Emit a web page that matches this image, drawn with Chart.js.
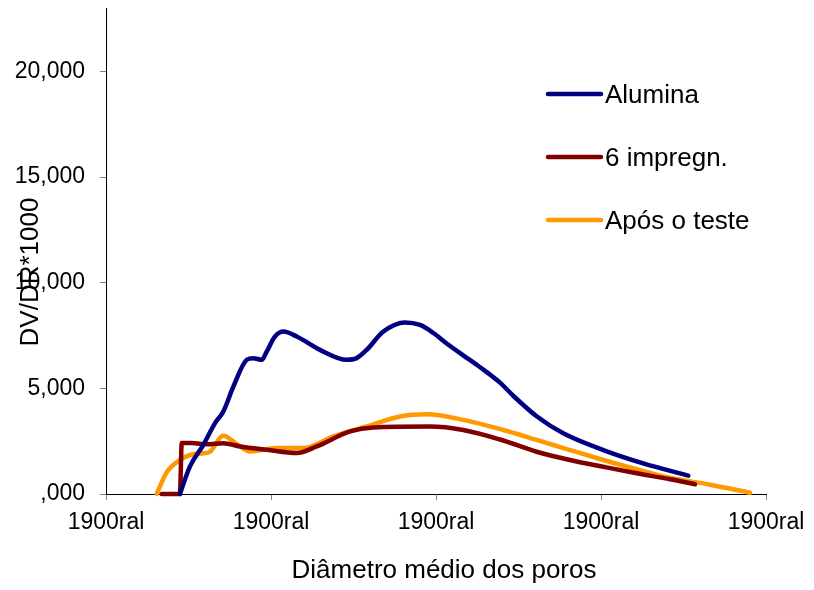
<!DOCTYPE html>
<html>
<head>
<meta charset="utf-8">
<script src="https://cdn.jsdelivr.net/npm/chart.js@4"></script>
<style>
  body { margin: 0; background: #fff; }
  canvas { display: block; }
</style>
</head>
<body>
<canvas id="myChart" width="814" height="590"></canvas>
<script>
// Werte (x in Achseneinheiten, y = DV/DR*1000)
const aluminaX = [0.448, 0.509, 0.590, 0.661, 0.711, 0.772, 0.853, 0.893, 0.944, 0.974, 1.024, 1.075, 1.156, 1.297, 1.459, 1.519, 1.580, 1.681, 1.812, 1.903, 1.984, 2.065, 2.165, 2.267, 2.388, 2.468, 2.610, 2.771, 3.014, 3.256, 3.529];
const aluminaY = [0, 1305, 2330, 3357, 3905, 5087, 6350, 6430, 6350, 6742, 7451, 7688, 7451, 6822, 6350, 6430, 6822, 7688, 8120, 8000, 7620, 7120, 6560, 6000, 5270, 4650, 3680, 2870, 2080, 1450, 870];

const impregX = [0.338, 0.448, 0.459, 0.519, 0.610, 0.711, 0.812, 0.974, 1.156, 1.277, 1.479, 1.620, 1.964, 2.165, 2.388, 2.610, 2.812, 3.014, 3.216, 3.418, 3.570];
const impregY = [0, 0, 2411, 2411, 2350, 2400, 2250, 2094, 1938, 2250, 2960, 3150, 3190, 3030, 2580, 2000, 1610, 1290, 980, 700, 460];

const testeX = [0.307, 0.368, 0.448, 0.509, 0.590, 0.630, 0.711, 0.792, 0.873, 1.035, 1.196, 1.378, 1.580, 1.782, 1.944, 2.165, 2.408, 2.610, 2.812, 3.014, 3.216, 3.418, 3.661, 3.903];
const testeY = [0, 1025, 1608, 1845, 1925, 2000, 2760, 2366, 2014, 2174, 2174, 2723, 3196, 3669, 3770, 3510, 3030, 2560, 2080, 1610, 1170, 770, 440, 60];

const seriesLabels = ['Alumina', '6 impregn.', 'Após o teste'];
const seriesColors = ['#000080', '#800000', '#FF9900'];
const yTicks = [0, 5000, 10000, 15000, 20000];
const xTickLabel = '1900ral';
const xTitle = 'Diâmetro médio dos poros';
const yTitle = 'DV/DR*1000';

const FONT = "'Liberation Sans', Arial, sans-serif";

function toPoints(xs, ys) {
  return xs.map((x, i) => ({ x: x, y: ys[i] }));
}

function fmtY(v) {
  if (v === 0) return ',000';
  return v.toLocaleString('en-US');
}

// Legende und Achsentitel selbst zeichnen
const extras = {
  id: 'extras',
  afterDraw(chart) {
    const c = chart.ctx;
    c.save();
    c.fillStyle = '#000';
    c.font = '26px ' + FONT;
    chart.data.datasets.forEach((ds, i) => {
      const y = 94 + i * 63;
      c.strokeStyle = ds.borderColor;
      c.lineWidth = 4.5;
      c.lineCap = 'round';
      c.beginPath();
      c.moveTo(548, y);
      c.lineTo(601, y);
      c.stroke();
      c.textAlign = 'left';
      c.textBaseline = 'alphabetic';
      c.fillText(ds.label, 605, y + 9);
    });
    c.textAlign = 'center';
    c.textBaseline = 'middle';
    c.fillText(xTitle, 444, 571);
    c.translate(31, 272);
    c.rotate(-Math.PI / 2);
    c.fillText(yTitle, 0, 0);
    c.restore();
  }
};

const datasets = [
  toPoints(aluminaX, aluminaY),
  toPoints(impregX, impregY),
  toPoints(testeX, testeY)
].map((pts, i) => ({
  label: seriesLabels[i],
  data: pts,
  borderColor: seriesColors[i],
  backgroundColor: seriesColors[i],
  borderWidth: 4.5,
  pointRadius: 0,
  cubicInterpolationMode: 'monotone',
  borderCapStyle: 'round',
  borderJoinStyle: 'round',
  clip: false
}));

const ctx = document.getElementById('myChart').getContext('2d');
const myChart = new Chart(ctx, {
  type: 'line',
  data: { datasets: datasets },
  plugins: [extras],
  options: {
    responsive: false,
    animation: false,
    devicePixelRatio: 1,
    layout: { padding: { left: 0, right: 48, top: 8, bottom: 0 } },
    plugins: {
      legend: { display: false },
      tooltip: { enabled: false }
    },
    scales: {
      x: {
        type: 'linear',
        min: 0,
        max: 4,
        afterFit: s => { s.height = 96; s.paddingLeft = 0; s.paddingRight = 0; },
        ticks: {
          stepSize: 1,
          color: '#000',
          font: { family: FONT, size: 23 },
          padding: 9,
          maxRotation: 0,
          callback: () => xTickLabel
        },
        grid: { drawOnChartArea: false, tickLength: 6, tickColor: '#808080' },
        border: { color: '#000', width: 1 }
      },
      y: {
        min: 0,
        max: 23000,
        afterFit: s => { s.width = 106; s.paddingTop = 0; s.paddingBottom = 0; },
        afterBuildTicks: s => { s.ticks = yTicks.map(v => ({ value: v })); },
        ticks: {
          color: '#000',
          font: { family: FONT, size: 23 },
          padding: 15,
          callback: v => fmtY(v)
        },
        grid: { drawOnChartArea: false, tickLength: 6, tickColor: '#808080' },
        border: { color: '#000', width: 1 }
      }
    }
  }
});
</script>
</body>
</html>
